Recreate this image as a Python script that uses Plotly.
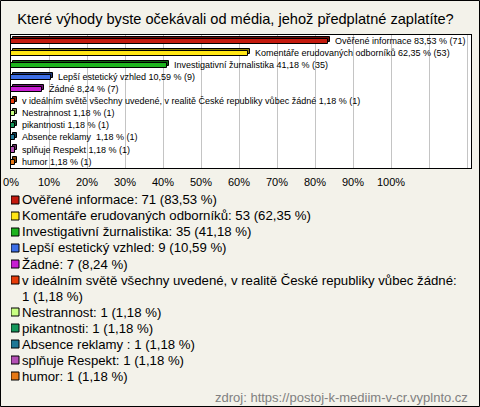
import textwrap
import plotly.graph_objects as go

# ---- data ----
categories = [
    "Ověřené informace",
    "Komentáře erudovaných odborníků",
    "Investigativní žurnalistika",
    "Lepší estetický vzhled",
    "Žádné",
    "v ideálním světě všechny uvedené, v realitě České republiky vůbec žádné",
    "Nestrannost",
    "pikantnosti",
    "Absence reklamy ",
    "splňuje Respekt",
    "humor",
]
counts = [71, 53, 35, 9, 7, 1, 1, 1, 1, 1, 1]
percents = [83.53, 62.35, 41.18, 10.59, 8.24, 1.18, 1.18, 1.18, 1.18, 1.18, 1.18]
colors = ["#c41a0e", "#ffe614", "#1eb41e", "#3c6ee6", "#c81ed2", "#e63c0a",
          "#c8ff82", "#14965a", "#1e7896", "#b450b4", "#e67814"]
tick_values = [0, 10, 20, 30, 40, 50, 60, 70, 80, 90, 100, 110, 120]
tick_labels = ["0%", "10%", "20%", "30%", "40%", "50%", "60%", "70%", "80%", "90%", "100%", "", ""]
title_text = "Které výhody byste očekávali od média, jehož předplatné zaplatíte?"
source_text = "zdroj: https://postoj-k-mediim-v-cr.vyplnto.cz"

# ---- geometry helpers ----
W, H = 480, 407
ML, MR, MT, MB = 11, 9, 35, 0
PW, PH = W - ML - MR, H - MT - MB
def px_x(p):
    return (p - ML) / PW
def px_y(p):
    return (H - MB - p) / PH

FONT = "Liberation Sans, Arial, sans-serif"
BG = "#f3f2ea"
NB = "\u00a0"

def fmt(p):
    return f"{p:.2f}".replace(".", ",")

def darker(hexc, f=0.55):
    r, g, b = int(hexc[1:3], 16), int(hexc[3:5], 16), int(hexc[5:7], 16)
    return f"rgb({int(r*f)},{int(g*f)},{int(b*f)})"

bar_labels = [NB * 3 + f"{c} {fmt(p)} % ({n})" for c, p, n in zip(categories, percents, counts)]
idx = list(range(len(categories)))

fig = go.Figure()
# depth (3D) face
fig.add_trace(go.Bar(
    y=idx, x=percents, base=0.45, orientation="h",
    marker=dict(color=[darker(c) for c in colors], line=dict(color="black", width=1)),
    width=0.42, offset=-0.37, hoverinfo="skip", showlegend=False,
))
# front face
fig.add_trace(go.Bar(
    y=idx, x=percents, orientation="h",
    marker=dict(color=colors, line=dict(color="black", width=1)),
    width=0.42, offset=-0.2,
    text=bar_labels, textposition="outside", cliponaxis=True, constraintext="none",
    textfont=dict(family=FONT, size=9, color="black"),
    showlegend=False,
))

# ---- manual legend ----
leg_rows = []
row = 0
ann = []
for c, p, n in zip(categories, percents, counts):
    lines = textwrap.wrap(f"{c.rstrip()}{' ' if c.endswith(' ') else ''}: {n} ({fmt(p)} %)", width=73)
    leg_rows.append(row)
    for k, ln in enumerate(lines):
        ann.append(dict(x=8.5, y=row + k, xref="x2", yref="y2", text=ln, showarrow=False,
                        xanchor="left", yanchor="middle",
                        font=dict(family=FONT, size=13.2, color="black")))
    row += len(lines)
n_rows = row

fig.add_trace(go.Scatter(
    x=[4] * len(categories), y=leg_rows, xaxis="x2", yaxis="y2", mode="markers",
    marker=dict(symbol="square", size=8, color=colors, line=dict(color="black", width=1)),
    hoverinfo="skip", showlegend=False,
))

leg_top, row_h = 192, 16
leg_bot = leg_top + row_h * n_rows

fig.update_layout(
    width=W, height=H,
    margin=dict(l=ML, r=MR, t=MT, b=MB, autoexpand=False),
    paper_bgcolor=BG, plot_bgcolor="rgba(0,0,0,0)",
    barmode="overlay", bargap=0,
    font=dict(family=FONT, color="black"),
    title=dict(text=title_text, x=235.5 / W, xref="container", xanchor="center",
               y=1 - 19 / H, yref="container", yanchor="middle",
               font=dict(family=FONT, size=14.6, color="black")),
    xaxis=dict(range=[0, (471 - 11) / 3.8], tickvals=tick_values, ticktext=tick_labels,
               showgrid=True, gridcolor="#c4c4c4", gridwidth=1, zeroline=False,
               showline=True, mirror=True, linecolor="black", linewidth=1,
               ticks="outside", ticklen=4, tickcolor="rgba(0,0,0,0)",
               tickfont=dict(family=FONT, size=11, color="black"),
               anchor="y", domain=[0, 1], fixedrange=True, automargin=False),
    yaxis=dict(range=[10.5, -0.5], showticklabels=False, showgrid=False, zeroline=False,
               showline=True, mirror=True, linecolor="black", linewidth=1, ticks="",
               domain=[px_y(168), 1], anchor="x", automargin=False),
    xaxis2=dict(range=[0, PW], visible=False, anchor="y2", domain=[0, 1]),
    yaxis2=dict(range=[n_rows - 0.5, -0.5], visible=False, anchor="x2",
                domain=[px_y(leg_bot), px_y(leg_top)]),
    annotations=ann + [
        dict(x=px_x(470), y=px_y(397), xref="paper", yref="paper", text=source_text,
             showarrow=False, xanchor="right", yanchor="middle",
             font=dict(family=FONT, size=13, color="#808080")),
    ],
    shapes=[
        dict(type="rect", xref="x domain", yref="y domain", x0=0, x1=1, y0=0, y1=1,
             fillcolor="white", line=dict(width=0), layer="below"),
        dict(type="rect", xref="paper", yref="paper",
             x0=px_x(0.5), x1=px_x(W - 0.5), y0=px_y(H - 0.5), y1=px_y(0.5),
             line=dict(color="black", width=1), fillcolor="rgba(0,0,0,0)", layer="above"),
    ],
)

fig.write_html("out.html", config={"displayModeBar": False},
               post_script="document.body.style.margin='0';")
